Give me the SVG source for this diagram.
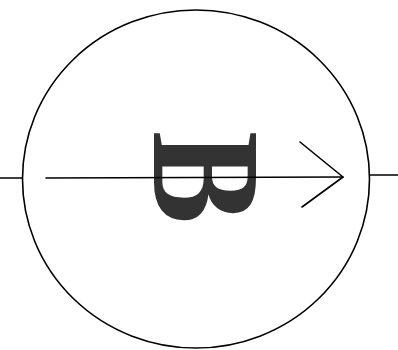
<svg xmlns="http://www.w3.org/2000/svg" width="398" height="350" viewBox="0 0 398 350">
<style>
.ln{fill:none;stroke:#000;stroke-width:1.6;stroke-linecap:round;stroke-linejoin:round}
.glyph{font-family:"Liberation Serif","Times New Roman",serif;font-weight:bold;font-size:155px;fill:#333}
</style>
<rect width="398" height="350" fill="#fff"/>
<g id="circle">
<ellipse class="ln" cx="196" cy="179" rx="173.5" ry="169"/>
</g>
<g id="letter">
<text class="glyph" transform="translate(154,131) rotate(90) scale(0.9,1)" x="0" y="0">B</text>
</g>
<g id="connectors">
<line class="ln" x1="0" y1="178" x2="22" y2="178"/>
<line class="ln" x1="46" y1="178" x2="343" y2="177"/>
<polyline class="ln" points="300,142 343,177 302,207"/>
<line class="ln" x1="370" y1="175" x2="398" y2="175"/>
</g>
</svg>
